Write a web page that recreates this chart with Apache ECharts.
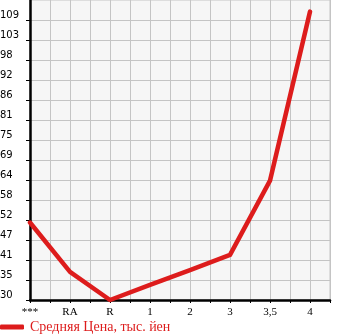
<!DOCTYPE html>
<html>
<head>
<meta charset="utf-8">
<script src="https://cdn.jsdelivr.net/npm/echarts@6/dist/echarts.min.js"></script>
<style>
html,body{margin:0;padding:0;background:#fff;}
#c{width:345px;height:335px;}
</style>
</head>
<body>
<div id="c"></div>
<script>
const categories = ['***', 'RA', 'R', '1', '2', '3', '3,5', '4'];
const priceValues = [52.0, 38.0, 30.0, 34.3, 38.5, 42.8, 63.9, 111.9];
const yTickValues = [30, 35.68, 41.36, 47.04, 52.72, 58.4, 64.08, 69.76, 75.44, 81.12, 86.8, 92.48, 98.16, 103.84, 109.52];
const yTickLabels = ['30', '35', '41', '47', '52', '58', '64', '69', '75', '81', '86', '92', '98', '103', '109'];
const seriesName = 'Средняя Цена, тыс. йен';

const chart = echarts.init(document.getElementById('c'), null, {renderer: 'canvas'});
chart.setOption({
  animation: false,
  backgroundColor: '#ffffff',
  grid: {
    left: 30, top: 0, right: 15, bottom: 35,
    outerBoundsMode: 'none', containLabel: false,
    show: true, backgroundColor: '#f6f6f6', borderColor: '#c4c4c4', borderWidth: 1
  },
  legend: {
    show: true, left: 0, top: 320, padding: 0,
    itemWidth: 24, itemHeight: 5, itemGap: 4,
    icon: 'roundRect',
    textStyle: {color: '#dd1c1c', fontFamily: 'Liberation Serif', fontSize: 14, padding: [0, 0, 0, 1]},
    data: [seriesName]
  },
  xAxis: {
    type: 'value', min: 0, max: 7.5, interval: 0.5,
    axisLine: {show: true, lineStyle: {color: '#000', width: 2.5}},
    axisTick: {show: true, length: 3, lineStyle: {color: '#000', width: 1}},
    splitLine: {show: true, lineStyle: {color: '#c4c4c4', width: 1}},
    axisLabel: {
      margin: 7, color: '#000', fontFamily: 'Liberation Serif', fontSize: 11,
      showMinLabel: true, showMaxLabel: true,
      formatter: v => Number.isInteger(v) && categories[v] !== undefined ? categories[v] : ''
    }
  },
  yAxis: {
    type: 'value', min: 30, max: 115.2,
    axisLine: {show: true, lineStyle: {color: '#000', width: 2.5}},
    axisTick: {show: true, length: 4, customValues: yTickValues, lineStyle: {color: '#000', width: 1}},
    splitLine: {show: true, lineStyle: {color: '#c4c4c4', width: 1}},
    axisLabel: {
      customValues: yTickValues,
      margin: 30, align: 'left', verticalAlign: 'bottom',
      color: '#000', fontFamily: 'DejaVu Sans', fontSize: 10,
      formatter: v => {
        const i = yTickValues.findIndex(t => Math.abs(t - v) < 1e-6);
        return i >= 0 ? yTickLabels[i] : '';
      }
    }
  },
  series: [{
    name: seriesName,
    type: 'line',
    data: priceValues.map((v, i) => [i, v]),
    symbol: 'none',
    color: '#dd1c1c',
    lineStyle: {color: '#dd1c1c', width: 4.5, cap: 'round', join: 'round'},
    clip: false
  }]
});
</script>
</body>
</html>
